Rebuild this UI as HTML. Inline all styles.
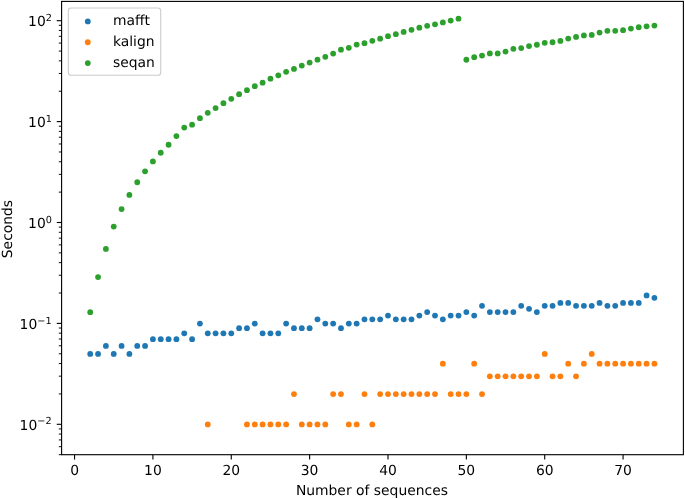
<!DOCTYPE html>
<html lang="en"><head><meta charset="utf-8"><title>Alignment runtime</title>
<style>html,body{margin:0;padding:0;background:#fff}svg{display:block}</style></head>
<body>
<svg width="685" height="499" viewBox="0 0 685 499" font-family="'DejaVu Sans', 'Liberation Sans', sans-serif" font-size="13.89px" fill="#000" text-rendering="geometricPrecision">
<rect width="685" height="499" fill="#fff"/>
<g fill="#1f77b4">
<circle cx="90.22" cy="353.92" r="2.9"/>
<circle cx="98.06" cy="353.92" r="2.9"/>
<circle cx="105.89" cy="345.93" r="2.9"/>
<circle cx="113.73" cy="353.92" r="2.9"/>
<circle cx="121.57" cy="345.93" r="2.9"/>
<circle cx="129.40" cy="353.92" r="2.9"/>
<circle cx="137.24" cy="345.93" r="2.9"/>
<circle cx="145.07" cy="345.93" r="2.9"/>
<circle cx="152.91" cy="339.18" r="2.9"/>
<circle cx="160.75" cy="339.18" r="2.9"/>
<circle cx="168.58" cy="339.18" r="2.9"/>
<circle cx="176.42" cy="339.18" r="2.9"/>
<circle cx="184.25" cy="333.33" r="2.9"/>
<circle cx="192.09" cy="339.18" r="2.9"/>
<circle cx="199.93" cy="323.55" r="2.9"/>
<circle cx="207.76" cy="333.33" r="2.9"/>
<circle cx="215.60" cy="333.33" r="2.9"/>
<circle cx="223.43" cy="333.33" r="2.9"/>
<circle cx="231.27" cy="333.33" r="2.9"/>
<circle cx="239.11" cy="328.17" r="2.9"/>
<circle cx="246.94" cy="328.17" r="2.9"/>
<circle cx="254.78" cy="323.55" r="2.9"/>
<circle cx="262.61" cy="333.33" r="2.9"/>
<circle cx="270.45" cy="333.33" r="2.9"/>
<circle cx="278.29" cy="333.33" r="2.9"/>
<circle cx="286.12" cy="323.55" r="2.9"/>
<circle cx="293.96" cy="328.17" r="2.9"/>
<circle cx="301.79" cy="328.17" r="2.9"/>
<circle cx="309.63" cy="328.17" r="2.9"/>
<circle cx="317.47" cy="319.37" r="2.9"/>
<circle cx="325.30" cy="323.55" r="2.9"/>
<circle cx="333.14" cy="323.55" r="2.9"/>
<circle cx="340.97" cy="328.17" r="2.9"/>
<circle cx="348.81" cy="323.55" r="2.9"/>
<circle cx="356.65" cy="323.55" r="2.9"/>
<circle cx="364.48" cy="319.37" r="2.9"/>
<circle cx="372.32" cy="319.37" r="2.9"/>
<circle cx="380.15" cy="319.37" r="2.9"/>
<circle cx="387.99" cy="315.56" r="2.9"/>
<circle cx="395.83" cy="319.37" r="2.9"/>
<circle cx="403.66" cy="319.37" r="2.9"/>
<circle cx="411.50" cy="319.37" r="2.9"/>
<circle cx="419.33" cy="315.56" r="2.9"/>
<circle cx="427.17" cy="312.05" r="2.9"/>
<circle cx="435.01" cy="315.56" r="2.9"/>
<circle cx="442.84" cy="319.37" r="2.9"/>
<circle cx="450.68" cy="315.56" r="2.9"/>
<circle cx="458.51" cy="315.56" r="2.9"/>
<circle cx="466.35" cy="312.05" r="2.9"/>
<circle cx="474.19" cy="315.56" r="2.9"/>
<circle cx="482.02" cy="305.78" r="2.9"/>
<circle cx="489.86" cy="312.05" r="2.9"/>
<circle cx="497.69" cy="312.05" r="2.9"/>
<circle cx="505.53" cy="312.05" r="2.9"/>
<circle cx="513.37" cy="312.05" r="2.9"/>
<circle cx="521.20" cy="305.78" r="2.9"/>
<circle cx="529.04" cy="308.81" r="2.9"/>
<circle cx="536.87" cy="312.05" r="2.9"/>
<circle cx="544.71" cy="305.78" r="2.9"/>
<circle cx="552.55" cy="305.78" r="2.9"/>
<circle cx="560.38" cy="302.95" r="2.9"/>
<circle cx="568.22" cy="302.95" r="2.9"/>
<circle cx="576.05" cy="305.78" r="2.9"/>
<circle cx="583.89" cy="305.78" r="2.9"/>
<circle cx="591.73" cy="305.78" r="2.9"/>
<circle cx="599.56" cy="302.95" r="2.9"/>
<circle cx="607.40" cy="305.78" r="2.9"/>
<circle cx="615.23" cy="305.78" r="2.9"/>
<circle cx="623.07" cy="302.95" r="2.9"/>
<circle cx="630.91" cy="302.95" r="2.9"/>
<circle cx="638.74" cy="302.95" r="2.9"/>
<circle cx="646.58" cy="295.42" r="2.9"/>
<circle cx="654.41" cy="297.79" r="2.9"/>
</g>
<g fill="#ff7f0e">
<circle cx="207.76" cy="424.45" r="2.9"/>
<circle cx="246.94" cy="424.45" r="2.9"/>
<circle cx="254.78" cy="424.45" r="2.9"/>
<circle cx="262.61" cy="424.45" r="2.9"/>
<circle cx="270.45" cy="424.45" r="2.9"/>
<circle cx="278.29" cy="424.45" r="2.9"/>
<circle cx="286.12" cy="424.45" r="2.9"/>
<circle cx="293.96" cy="394.08" r="2.9"/>
<circle cx="301.79" cy="424.45" r="2.9"/>
<circle cx="309.63" cy="424.45" r="2.9"/>
<circle cx="317.47" cy="424.45" r="2.9"/>
<circle cx="325.30" cy="424.45" r="2.9"/>
<circle cx="333.14" cy="394.08" r="2.9"/>
<circle cx="340.97" cy="394.08" r="2.9"/>
<circle cx="348.81" cy="424.45" r="2.9"/>
<circle cx="356.65" cy="424.45" r="2.9"/>
<circle cx="364.48" cy="394.08" r="2.9"/>
<circle cx="372.32" cy="424.45" r="2.9"/>
<circle cx="380.15" cy="394.08" r="2.9"/>
<circle cx="387.99" cy="394.08" r="2.9"/>
<circle cx="395.83" cy="394.08" r="2.9"/>
<circle cx="403.66" cy="394.08" r="2.9"/>
<circle cx="411.50" cy="394.08" r="2.9"/>
<circle cx="419.33" cy="394.08" r="2.9"/>
<circle cx="427.17" cy="394.08" r="2.9"/>
<circle cx="435.01" cy="394.08" r="2.9"/>
<circle cx="442.84" cy="363.70" r="2.9"/>
<circle cx="450.68" cy="394.08" r="2.9"/>
<circle cx="458.51" cy="394.08" r="2.9"/>
<circle cx="466.35" cy="394.08" r="2.9"/>
<circle cx="474.19" cy="363.70" r="2.9"/>
<circle cx="482.02" cy="394.08" r="2.9"/>
<circle cx="489.86" cy="376.31" r="2.9"/>
<circle cx="497.69" cy="376.31" r="2.9"/>
<circle cx="505.53" cy="376.31" r="2.9"/>
<circle cx="513.37" cy="376.31" r="2.9"/>
<circle cx="521.20" cy="376.31" r="2.9"/>
<circle cx="529.04" cy="376.31" r="2.9"/>
<circle cx="536.87" cy="376.31" r="2.9"/>
<circle cx="544.71" cy="353.92" r="2.9"/>
<circle cx="552.55" cy="376.31" r="2.9"/>
<circle cx="560.38" cy="376.31" r="2.9"/>
<circle cx="568.22" cy="363.70" r="2.9"/>
<circle cx="576.05" cy="376.31" r="2.9"/>
<circle cx="583.89" cy="363.70" r="2.9"/>
<circle cx="591.73" cy="353.92" r="2.9"/>
<circle cx="599.56" cy="363.70" r="2.9"/>
<circle cx="607.40" cy="363.70" r="2.9"/>
<circle cx="615.23" cy="363.70" r="2.9"/>
<circle cx="623.07" cy="363.70" r="2.9"/>
<circle cx="630.91" cy="363.70" r="2.9"/>
<circle cx="638.74" cy="363.70" r="2.9"/>
<circle cx="646.58" cy="363.70" r="2.9"/>
<circle cx="654.41" cy="363.70" r="2.9"/>
</g>
<g fill="#2ca02c">
<circle cx="90.22" cy="312.15" r="2.9"/>
<circle cx="98.06" cy="277.05" r="2.9"/>
<circle cx="105.89" cy="248.95" r="2.9"/>
<circle cx="113.73" cy="226.55" r="2.9"/>
<circle cx="121.57" cy="209.05" r="2.9"/>
<circle cx="129.40" cy="194.95" r="2.9"/>
<circle cx="137.24" cy="182.25" r="2.9"/>
<circle cx="145.07" cy="171.35" r="2.9"/>
<circle cx="152.91" cy="161.45" r="2.9"/>
<circle cx="160.75" cy="152.75" r="2.9"/>
<circle cx="168.58" cy="144.75" r="2.9"/>
<circle cx="176.42" cy="136.05" r="2.9"/>
<circle cx="184.25" cy="127.60" r="2.9"/>
<circle cx="192.09" cy="124.70" r="2.9"/>
<circle cx="199.93" cy="118.15" r="2.9"/>
<circle cx="207.76" cy="112.85" r="2.9"/>
<circle cx="215.60" cy="108.05" r="2.9"/>
<circle cx="223.43" cy="103.15" r="2.9"/>
<circle cx="231.27" cy="98.85" r="2.9"/>
<circle cx="239.11" cy="94.15" r="2.9"/>
<circle cx="246.94" cy="90.15" r="2.9"/>
<circle cx="254.78" cy="86.15" r="2.9"/>
<circle cx="262.61" cy="82.65" r="2.9"/>
<circle cx="270.45" cy="78.65" r="2.9"/>
<circle cx="278.29" cy="75.30" r="2.9"/>
<circle cx="286.12" cy="71.85" r="2.9"/>
<circle cx="293.96" cy="68.95" r="2.9"/>
<circle cx="301.79" cy="65.55" r="2.9"/>
<circle cx="309.63" cy="62.55" r="2.9"/>
<circle cx="317.47" cy="59.65" r="2.9"/>
<circle cx="325.30" cy="56.85" r="2.9"/>
<circle cx="333.14" cy="53.55" r="2.9"/>
<circle cx="340.97" cy="49.65" r="2.9"/>
<circle cx="348.81" cy="47.85" r="2.9"/>
<circle cx="356.65" cy="44.55" r="2.9"/>
<circle cx="364.48" cy="43.20" r="2.9"/>
<circle cx="372.32" cy="40.80" r="2.9"/>
<circle cx="380.15" cy="38.65" r="2.9"/>
<circle cx="387.99" cy="36.15" r="2.9"/>
<circle cx="395.83" cy="34.15" r="2.9"/>
<circle cx="403.66" cy="31.95" r="2.9"/>
<circle cx="411.50" cy="29.85" r="2.9"/>
<circle cx="419.33" cy="27.65" r="2.9"/>
<circle cx="427.17" cy="25.85" r="2.9"/>
<circle cx="435.01" cy="24.35" r="2.9"/>
<circle cx="442.84" cy="22.45" r="2.9"/>
<circle cx="450.68" cy="20.55" r="2.9"/>
<circle cx="458.51" cy="18.65" r="2.9"/>
<circle cx="466.35" cy="59.75" r="2.9"/>
<circle cx="474.19" cy="57.15" r="2.9"/>
<circle cx="482.02" cy="55.55" r="2.9"/>
<circle cx="489.86" cy="53.45" r="2.9"/>
<circle cx="497.69" cy="53.45" r="2.9"/>
<circle cx="505.53" cy="51.55" r="2.9"/>
<circle cx="513.37" cy="48.85" r="2.9"/>
<circle cx="521.20" cy="48.05" r="2.9"/>
<circle cx="529.04" cy="46.05" r="2.9"/>
<circle cx="536.87" cy="44.75" r="2.9"/>
<circle cx="544.71" cy="42.85" r="2.9"/>
<circle cx="552.55" cy="42.25" r="2.9"/>
<circle cx="560.38" cy="40.95" r="2.9"/>
<circle cx="568.22" cy="38.55" r="2.9"/>
<circle cx="576.05" cy="36.95" r="2.9"/>
<circle cx="583.89" cy="35.45" r="2.9"/>
<circle cx="591.73" cy="34.95" r="2.9"/>
<circle cx="599.56" cy="32.55" r="2.9"/>
<circle cx="607.40" cy="30.85" r="2.9"/>
<circle cx="615.23" cy="30.85" r="2.9"/>
<circle cx="623.07" cy="30.15" r="2.9"/>
<circle cx="630.91" cy="28.55" r="2.9"/>
<circle cx="638.74" cy="27.25" r="2.9"/>
<circle cx="646.58" cy="26.35" r="2.9"/>
<circle cx="654.41" cy="25.55" r="2.9"/>
</g>
<g stroke="#000" stroke-width="1.11" fill="none">
<path d="M74.55 454.7V459.56"/>
<path d="M152.91 454.7V459.56"/>
<path d="M231.27 454.7V459.56"/>
<path d="M309.63 454.7V459.56"/>
<path d="M387.99 454.7V459.56"/>
<path d="M466.35 454.7V459.56"/>
<path d="M544.71 454.7V459.56"/>
<path d="M623.07 454.7V459.56"/>
<path d="M61.6 424.30H56.74"/>
<path d="M61.6 323.40H56.74"/>
<path d="M61.6 222.50H56.74"/>
<path d="M61.6 121.60H56.74"/>
<path d="M61.6 20.70H56.74"/>
</g>
<g stroke="#000" stroke-width="0.95" fill="none">
<path d="M61.6 454.67H58.82"/>
<path d="M61.6 446.68H58.82"/>
<path d="M61.6 439.93H58.82"/>
<path d="M61.6 434.08H58.82"/>
<path d="M61.6 428.92H58.82"/>
<path d="M61.6 393.93H58.82"/>
<path d="M61.6 376.16H58.82"/>
<path d="M61.6 363.55H58.82"/>
<path d="M61.6 353.77H58.82"/>
<path d="M61.6 345.78H58.82"/>
<path d="M61.6 339.03H58.82"/>
<path d="M61.6 333.18H58.82"/>
<path d="M61.6 328.02H58.82"/>
<path d="M61.6 293.03H58.82"/>
<path d="M61.6 275.26H58.82"/>
<path d="M61.6 262.65H58.82"/>
<path d="M61.6 252.87H58.82"/>
<path d="M61.6 244.88H58.82"/>
<path d="M61.6 238.13H58.82"/>
<path d="M61.6 232.28H58.82"/>
<path d="M61.6 227.12H58.82"/>
<path d="M61.6 192.13H58.82"/>
<path d="M61.6 174.36H58.82"/>
<path d="M61.6 161.75H58.82"/>
<path d="M61.6 151.97H58.82"/>
<path d="M61.6 143.98H58.82"/>
<path d="M61.6 137.23H58.82"/>
<path d="M61.6 131.38H58.82"/>
<path d="M61.6 126.22H58.82"/>
<path d="M61.6 91.23H58.82"/>
<path d="M61.6 73.46H58.82"/>
<path d="M61.6 60.85H58.82"/>
<path d="M61.6 51.07H58.82"/>
<path d="M61.6 43.08H58.82"/>
<path d="M61.6 36.33H58.82"/>
<path d="M61.6 30.48H58.82"/>
<path d="M61.6 25.32H58.82"/>
</g>
<rect x="61.6" y="1.4" width="621.80" height="453.30" fill="none" stroke="#000" stroke-width="1.11" stroke-linejoin="miter"/>
<text x="74.65" y="475.4" text-anchor="middle">0</text>
<text x="152.91" y="475.4" text-anchor="middle">10</text>
<text x="231.27" y="475.4" text-anchor="middle">20</text>
<text x="309.63" y="475.4" text-anchor="middle">30</text>
<text x="387.99" y="475.4" text-anchor="middle">40</text>
<text x="466.35" y="475.4" text-anchor="middle">50</text>
<text x="544.71" y="475.4" text-anchor="middle">60</text>
<text x="623.07" y="475.4" text-anchor="middle">70</text>
<text x="19.6" y="429.60">10<tspan dy="-5.2" font-size="9.72px">−2</tspan></text>
<text x="19.6" y="328.70">10<tspan dy="-5.2" font-size="9.72px">−1</tspan></text>
<text x="28.1" y="227.80">10<tspan dy="-5.2" font-size="9.72px">0</tspan></text>
<text x="28.1" y="126.90">10<tspan dy="-5.2" font-size="9.72px">1</tspan></text>
<text x="28.1" y="26.00">10<tspan dy="-5.2" font-size="9.72px">2</tspan></text>
<text x="371.90" y="495" text-anchor="middle">Number of sequences</text>
<text transform="translate(12.0 229.05) rotate(-90)" text-anchor="middle">Seconds</text>
<rect x="68.35" y="8.0" width="92.35" height="67.2" rx="2.8" ry="2.8" fill="#fff" fill-opacity="0.8" stroke="#ccc" stroke-opacity="1" stroke-width="1.11"/>
<circle cx="87.8" cy="21.40" r="2.9" fill="#1f77b4"/>
<text x="112.95" y="25.15">mafft</text>
<circle cx="87.8" cy="42.25" r="2.9" fill="#ff7f0e"/>
<text x="112.95" y="46.00">kalign</text>
<circle cx="87.8" cy="63.10" r="2.9" fill="#2ca02c"/>
<text x="112.95" y="66.85">seqan</text>
</svg>
</body></html>
